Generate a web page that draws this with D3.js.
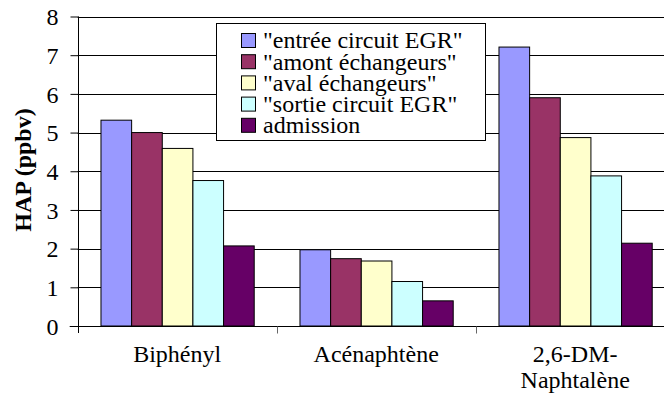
<!DOCTYPE html>
<html>
<head>
<meta charset="utf-8">
<script src="https://cdn.jsdelivr.net/npm/d3@7"></script>
<style>
  html, body { margin: 0; padding: 0; background: #fff; }
  svg { display: block; }
</style>
</head>
<body>
<script>
// ---- data ----
const categories = ["Biphényl", "Acénaphtène", "2,6-DM-\nNaphtalène"];
const seriesNames = ["\"entrée circuit EGR\"", "\"amont échangeurs\"", "\"aval échangeurs\"", "\"sortie circuit EGR\"", "admission"];
const entreeEGR  = [5.32, 1.97, 7.21];
const amontEch   = [5.00, 1.74, 5.90];
const avalEch    = [4.59, 1.68, 4.87];
const sortieEGR  = [3.76, 1.15, 3.88];
const admission  = [2.07, 0.65, 2.14];
const yTicks = [0, 1, 2, 3, 4, 5, 6, 7, 8];
const colors = ["#9999FF", "#993366", "#FFFFCC", "#CCFFFF", "#660066"];
const yTitle = "HAP (ppbv)";

const seriesValues = [entreeEGR, amontEch, avalEch, sortieEGR, admission];
const FONT = "'Liberation Serif', 'Times New Roman', Times, serif";

const W = 664, H = 396;
const svg = d3.select("body").append("svg").attr("width", W).attr("height", H)
  .attr("font-family", FONT);

const plotL = 77.7, plotR = 674.7, plotT = 16.5, plotB = 326;
const x = d3.scaleBand().domain(categories).range([plotL, plotR]).padding(0);
const bw = x.bandwidth();
const xs = d3.scaleBand().domain(seriesNames).range([bw * 0.117, bw * 0.887]).padding(0);
const y = d3.scaleLinear().domain([0, 8]).range([plotB, plotT]);

// gridlines
svg.append("g").selectAll("line").data(yTicks.filter(d => d > 0)).join("line")
  .attr("x1", plotL).attr("x2", plotR)
  .attr("y1", d => Math.round(y(d)) + 0.5).attr("y2", d => Math.round(y(d)) + 0.5)
  .attr("stroke", "#000").attr("stroke-width", 1);

// bars
const groups = svg.append("g").selectAll("g").data(categories).join("g")
  .attr("transform", d => `translate(${x(d)},0)`);
groups.selectAll("rect").data((c, ci) => seriesNames.map((s, si) => ({ s, si, v: seriesValues[si][ci] })))
  .join("rect")
  .attr("x", d => xs(d.s))
  .attr("width", xs.bandwidth())
  .attr("y", d => y(d.v))
  .attr("height", d => plotB - y(d.v))
  .attr("fill", d => colors[d.si])
  .attr("stroke", "#000").attr("stroke-width", 1);

// y axis
const yAxis = d3.axisLeft(y).tickValues(yTicks).tickSize(8).tickPadding(12).tickFormat(d3.format("d"));
const yg = svg.append("g").attr("transform", `translate(${Math.round(plotL) + 0.5},0)`).call(yAxis);
yg.attr("font-family", FONT).attr("font-size", 24);
yg.select(".domain").attr("stroke", "#000").attr("d", `M0,${plotT}V${plotB + 7}`);
yg.selectAll(".tick line").attr("stroke", "#000");
yg.selectAll(".tick text").style("font-family", FONT).style("font-size", "24px").attr("dy", "0.34em");

// x axis
const xb = Math.round(plotB) + 0.5;
svg.append("line").attr("x1", plotL - 8).attr("x2", plotR).attr("y1", xb).attr("y2", xb)
  .attr("stroke", "#000").attr("stroke-width", 1);
const bounds = categories.map(c => x(c)).concat([plotR]).slice(1);
svg.append("g").selectAll("line").data(bounds).join("line")
  .attr("x1", d => Math.round(d) + 0.5).attr("x2", d => Math.round(d) + 0.5)
  .attr("y1", xb).attr("y2", xb + 7)
  .attr("stroke", "#666").attr("stroke-width", 1);

// category labels
const cl = svg.append("g").selectAll("text").data(categories).join("text")
  .attr("text-anchor", "middle")
  .attr("x", d => x(d) + bw / 2)
  .attr("y", 362)
  .style("font-family", FONT)
  .style("font-size", "24px");
cl.selectAll("tspan").data(d => d.split("\n")).join("tspan")
  .attr("x", function () { return d3.select(this.parentNode).attr("x"); })
  .attr("dy", (d, i) => i === 0 ? 0 : 26)
  .text(d => d);

// y title
svg.append("text")
  .attr("transform", "translate(31,170) rotate(-90)")
  .attr("text-anchor", "middle")
  .style("font-family", FONT)
  .style("font-size", "24px").style("font-weight", "bold")
  .text(yTitle);

// legend
const lg = svg.append("g");
lg.append("rect").attr("x", 216.5).attr("y", 23.5).attr("width", 269).attr("height", 117)
  .attr("fill", "#fff").attr("stroke", "#000").attr("stroke-width", 1);
const items = lg.selectAll("g.item").data(seriesNames).join("g").attr("class", "item")
  .attr("transform", (d, i) => `translate(0,${40 + i * 21.2})`);
items.append("rect").attr("x", 241.5).attr("y", -6.5).attr("width", 14).attr("height", 14)
  .attr("fill", (d, i) => colors[i]).attr("stroke", "#000").attr("stroke-width", 1);
items.append("text").attr("x", 263).attr("y", 0).attr("dy", "0.35em")
  .style("font-family", FONT)
  .style("font-size", "24px").text(d => d);
</script>
</body>
</html>
